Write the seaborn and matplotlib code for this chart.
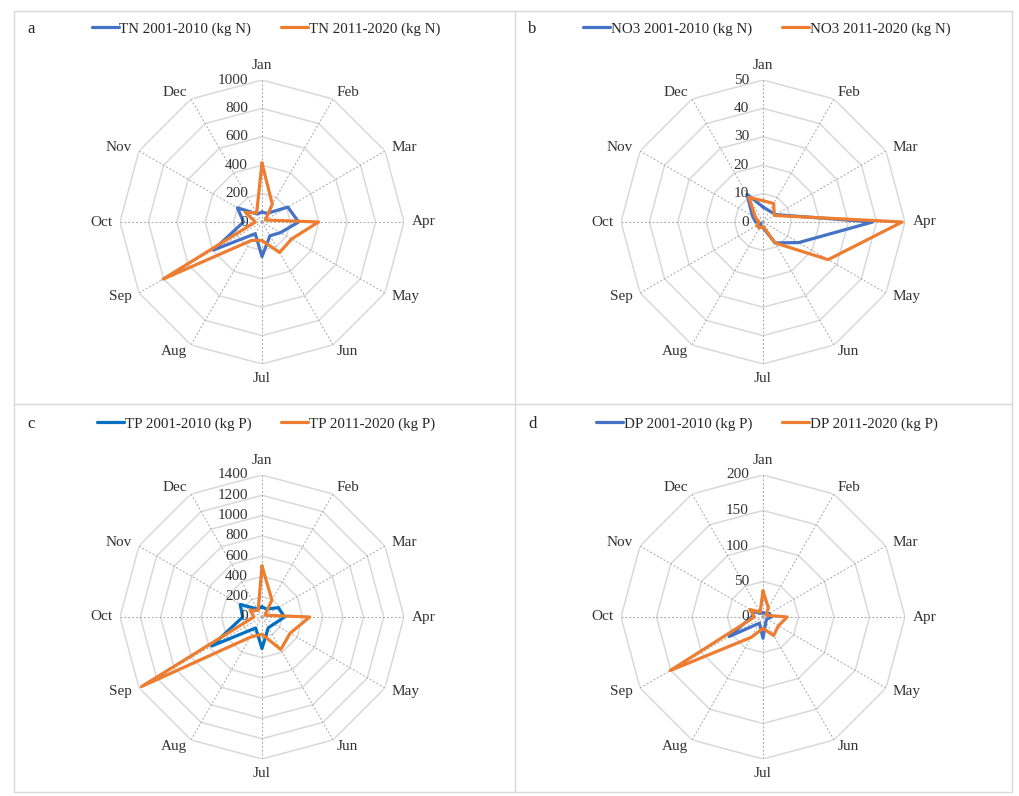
import numpy as np
import pandas as pd
import matplotlib
matplotlib.use("Agg")
import matplotlib.pyplot as plt
import matplotlib.transforms as mtransforms
from matplotlib.lines import Line2D
import seaborn as sns

sns.set_style("white")
plt.rcParams["font.family"] = ["Liberation Serif", "DejaVu Serif"]

# monthly loads
months = ["Jan", "Feb", "Mar", "Apr", "May", "Jun",
          "Jul", "Aug", "Sep", "Oct", "Nov", "Dec"]

tn_2001 = [70, 70, 210, 258, 150, 112, 244, 95, 395, 130, 200, 65]
tn_2011 = [415, 145, 28, 398, 240, 248, 130, 150, 805, 47, 135, 75]

no3_2001 = [5.3, 4.5, 5.2, 38.6, 14.5, 8.5, 2.0, 1.5, 1.0, 2.6, 4.3, 11.3]
no3_2011 = [7.5, 7.5, 4.6, 49.0, 26.5, 8.5, 1.5, 2.5, 2.5, 1.5, 3.0, 10.0]

tp_2001 = [100, 90, 185, 223, 137, 123, 311, 125, 571, 190, 248, 90]
tp_2011 = [502, 195, 35, 470, 320, 370, 170, 230, 1370, 80, 135, 75]

dp_2001 = [6, 6, 10, 12, 6, 8, 30, 10, 55, 16, 15, 6]
dp_2011 = [36.5, 15, 5, 34, 25, 30, 16, 33, 151, 12, 21, 8]

tn_ticks = [0, 200, 400, 600, 800, 1000]
no3_ticks = [0, 10, 20, 30, 40, 50]
tp_ticks = [0, 200, 400, 600, 800, 1000, 1200, 1400]
dp_ticks = [0, 50, 100, 150, 200]

ORANGE = "#ED7D31"
BLUE = "#4472C4"
BLUE_C = "#0070C0"
W, H = 1019, 796
R = 142

fig = plt.figure(figsize=(W / 100, H / 100), dpi=100)

# panel frames
for x in [14, 515, 1012]:
    fig.add_artist(Line2D([x / W, x / W], [1 - 11 / H, 1 - 792 / H],
                          color="#d9d9d9", lw=1, transform=fig.transFigure))
for y in [11, 404, 792]:
    fig.add_artist(Line2D([14 / W, 1012 / W], [1 - y / H, 1 - y / H],
                          color="#d9d9d9", lw=1, transform=fig.transFigure))


def radar(cx, cy, letter, name, unit, old, new, ticks, blue):
    ax = fig.add_axes([(cx - R) / W, (H - cy - R) / H, 2 * R / W, 2 * R / H],
                      projection="polar")
    ax.set_theta_zero_location("N")
    ax.set_theta_direction(-1)
    ax.grid(False)
    ax.spines["polar"].set_visible(False)
    ax.set_xticks([])
    ax.set_yticks([])
    ax.patch.set_alpha(0)

    theta = np.linspace(0, 2 * np.pi, 13)
    top = ticks[-1]
    for t in ticks[1:]:
        ax.plot(theta, [t] * 13, color="#d9d9d9", lw=1.1, zorder=1)
    for th in theta[:-1]:
        ax.plot([th, th], [0, top], color="#a6a6a6", lw=0.7, ls=(0, (2, 2)), zorder=1)

    lab_old = f"{name} 2001-2010 ({unit})"
    lab_new = f"{name} 2011-2020 ({unit})"
    rows = []
    for lab, vals in [(lab_old, old), (lab_new, new)]:
        for th, v in zip(theta, list(vals) + [vals[0]]):
            rows.append({"theta": th, "value": v, "series": lab})
    df = pd.DataFrame(rows)
    sns.lineplot(data=df, x="theta", y="value", hue="series", sort=False,
                 estimator=None, palette=[blue, ORANGE], lw=2.3, ax=ax, zorder=3)
    ax.get_legend().remove()
    ax.set_ylim(0, top)
    ax.set_xlabel("")
    ax.set_ylabel("")

    off = mtransforms.offset_copy(ax.transData, fig=fig, x=-14, y=0, units="dots")
    for t in ticks:
        ax.text(0, t, str(t), transform=off, ha="right", va="center", fontsize=11,
                color="#333333", zorder=4)

    for i, m in enumerate(months):
        th = theta[i]
        s, c = np.sin(th), np.cos(th)
        ha = "center" if abs(s) < 0.1 else ("left" if s > 0 else "right")
        va = "center" if abs(c) < 0.1 else ("bottom" if c > 0 else "top")
        if abs(c) > 0.1 and abs(s) > 0.1:
            va = "center"
        ax.text(th, top * 1.055, m, ha=ha, va=va, fontsize=11, color="#333333")

    fig.text((cx - 235) / W, 1 - (cy - 193) / H, letter, fontsize=12, va="center")
    handles = [Line2D([], [], color=blue, lw=2.3), Line2D([], [], color=ORANGE, lw=2.3)]
    fig.legend(handles, [lab_old, lab_new], loc="center",
               bbox_to_anchor=((cx + 4) / W, 1 - (cy - 193) / H), ncol=2,
               frameon=False, fontsize=10.8, handlelength=1.8, handletextpad=0.05,
               columnspacing=2.0)


radar(262, 222, "a", "TN", "kg N", tn_2001, tn_2011, tn_ticks, BLUE)
radar(763, 222, "b", "NO3", "kg N", no3_2001, no3_2011, no3_ticks, BLUE)
radar(262, 617, "c", "TP", "kg P", tp_2001, tp_2011, tp_ticks, BLUE_C)
radar(763, 617, "d", "DP", "kg P", dp_2001, dp_2011, dp_ticks, BLUE)

fig.savefig("out.png", dpi=100, facecolor="white")
